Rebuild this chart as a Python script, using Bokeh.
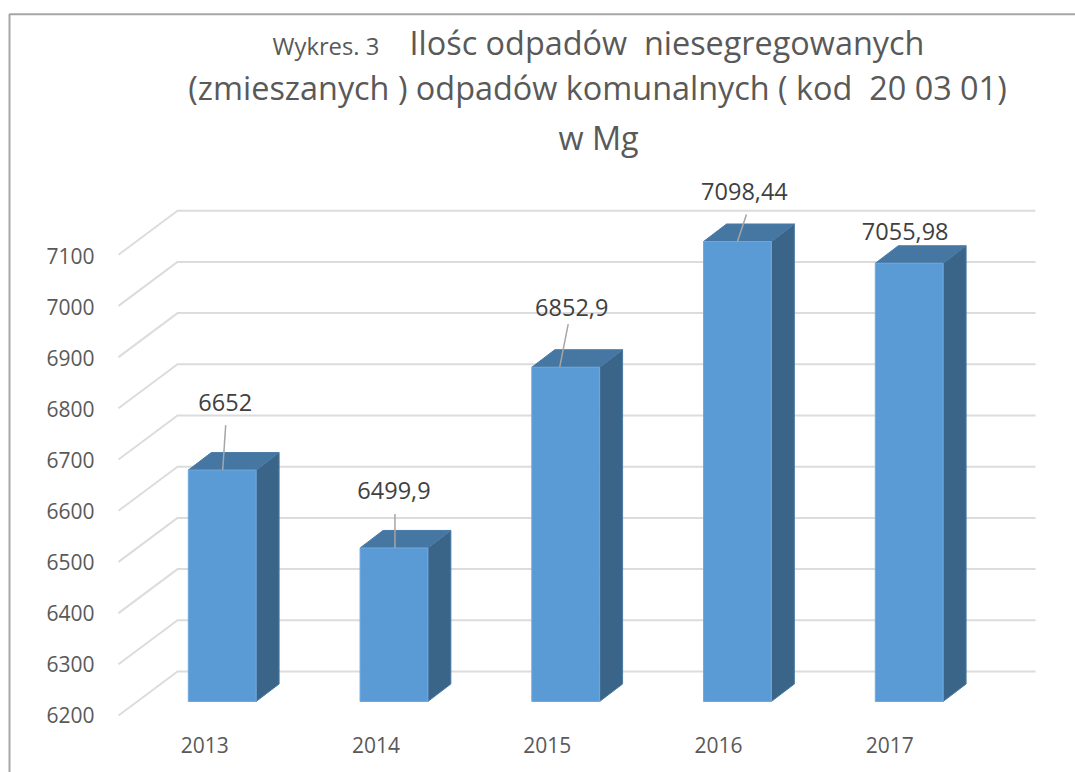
from bokeh.plotting import figure
from bokeh.models import Range1d, LinearAxis, FixedTicker, ColumnDataSource, Label
from bokeh.core.properties import value
from bokeh.embed import file_html
from bokeh.resources import INLINE

years = [2013, 2014, 2015, 2016, 2017]
amounts = [6652, 6499.9, 6852.9, 7098.44, 7055.98]
amount_labels = ["6652", "6499,9", "6852,9", "7098,44", "7055,98"]
y_ticks = [6200, 6300, 6400, 6500, 6600, 6700, 6800, 6900, 7000, 7100]

FONT = "Open Sans"
W, H = 1075, 772
ORIGIN_X, ORIGIN_Y = 0, 0      # page offset of the figure
PX_PER_YEAR = 171.75
PX_PER_UNIT = 0.512
BASE = y_ticks[0]
CENTER0 = 221.7                # page x of first bar centre
BASE_Y = 701                   # page y of bar foot


def xd(px):  # page px -> year scale
    return years[0] + (px - CENTER0) / PX_PER_YEAR


def yd(py):  # page py -> value scale
    return BASE + (BASE_Y - py) / PX_PER_UNIT


p = figure(width=W, height=H, output_backend="svg", toolbar_location=None,
           x_range=Range1d(xd(ORIGIN_X), xd(ORIGIN_X + W)),
           y_range=Range1d(yd(ORIGIN_Y + H), yd(ORIGIN_Y)),
           x_axis_type=None, y_axis_type=None, min_border=0,
           background_fill_color="white", border_fill_color="white")
p.outline_line_color = None
p.grid.visible = False

# Tick labels of the 3D front edge sit on their own scales
YL_PX, YL_ZERO = 0.509, 714
XL_PX, XL_ZERO = 171.25, 204.3
p.extra_y_ranges = {"front": Range1d(BASE + (YL_ZERO - (ORIGIN_Y + H)) / YL_PX,
                                     BASE + (YL_ZERO - ORIGIN_Y) / YL_PX)}
p.extra_x_ranges = {"front": Range1d(years[0] + (ORIGIN_X - XL_ZERO) / XL_PX,
                                     years[0] + (ORIGIN_X + W - XL_ZERO) / XL_PX)}

yax = LinearAxis(y_range_name="front", ticker=FixedTicker(ticks=y_ticks),
                 fixed_location=xd(100), axis_line_color=None,
                 major_tick_line_color=None, minor_tick_line_color=None,
                 major_label_standoff=0, major_label_text_font=FONT,
                 major_label_text_font_size="21px", major_label_text_color="#595959")
p.add_layout(yax, "left")
xax = LinearAxis(x_range_name="front", ticker=FixedTicker(ticks=years),
                 fixed_location=yd(730), axis_line_color=None,
                 major_tick_line_color=None, minor_tick_line_color=None,
                 major_label_standoff=0, major_label_text_font=FONT,
                 major_label_text_font_size="21px", major_label_text_color="#595959")
p.add_layout(xax, "below")

# Outer chart frame
p.line([xd(9), xd(9), xd(ORIGIN_X + W)], [yd(ORIGIN_Y + H), yd(13.7), yd(13.7)],
       line_color="#a6a6a6", line_width=2)

# 3D gridlines: front edge, back corner, back right end
FRONT_DX, BACK_DX, RIGHT_X = xd(118), xd(177), xd(1035)
FRONT_DY = -14 / PX_PER_UNIT
BACK_DY = 30 / PX_PER_UNIT
p.multi_line([[FRONT_DX, BACK_DX, RIGHT_X] for _ in y_ticks],
             [[v + FRONT_DY, v + BACK_DY, v + BACK_DY] for v in y_ticks],
             line_color="#dcdcdc", line_width=2)

# 3D bars
HALF = 33.9 / PX_PER_YEAR
DX = 23 / PX_PER_YEAR
DY = 17.5 / PX_PER_UNIT
front_x = [[c - HALF, c + HALF, c + HALF, c - HALF] for c in years]
front_y = [[BASE, BASE, v, v] for v in amounts]
side_x = [[c + HALF, c + HALF + DX, c + HALF + DX, c + HALF] for c in years]
side_y = [[BASE, BASE + DY, v + DY, v] for v in amounts]
top_x = [[c - HALF, c + HALF, c + HALF + DX, c - HALF + DX] for c in years]
top_y = [[v, v, v + DY, v + DY] for v in amounts]
p.patches(side_x, side_y, fill_color="#3a6589", line_color="#4a7ba6", line_width=1)
p.patches(top_x, top_y, fill_color="#4676a2", line_color="#4a7ba6", line_width=1)
p.patches(front_x, front_y, fill_color="#5b9bd5", line_color="#6fa8dc", line_width=1)

# Leader lines (offsets in px from each bar top; 2017 has none)
lead_x0 = [0.5, 1, -6, 0, None]
lead_x1 = [3.5, 1, 2.5, 9, None]
lead_len = [45, 34, 43, 27, None]
for c, v, a, b, n in zip(years, amounts, lead_x0, lead_x1, lead_len):
    if n is not None:
        p.line([c + a / PX_PER_YEAR, c + b / PX_PER_YEAR], [v, v + n / PX_PER_UNIT],
               line_color="#a6a6a6", line_width=1.5)

# Value labels
label_src = ColumnDataSource(dict(
    x=years, y=amounts, text=amount_labels,
    xo=[3, 0, 6, 7, -4],
    yo=[-68, -57, -60, -50, -32],
))
p.text("x", "y", text="text", source=label_src, x_offset="xo", y_offset="yo",
       text_font=value(FONT), text_font_size="23.5px", text_color="#404040",
       text_align="center", text_baseline="middle")


def title(txt, px, py, size, align="left"):
    p.add_layout(Label(x=px - ORIGIN_X, y=ORIGIN_Y + H - py, x_units="screen", y_units="screen",
                       text=txt, text_font=FONT, text_font_size=size, text_color="#595959",
                       text_align=align, text_baseline="middle"))


title("Wykres. 3", 272, 45, "23.8px")
title("Ilośc odpadów \u00a0niesegregowanych", 409, 41, "32.4px")
title("(zmieszanych ) odpadów komunalnych ( kod \u00a020 03 01)", 597, 86, "32.4px", "center")
title("w Mg", 598, 136, "32.4px", "center")

open("out.html", "w").write(file_html(p, INLINE))
